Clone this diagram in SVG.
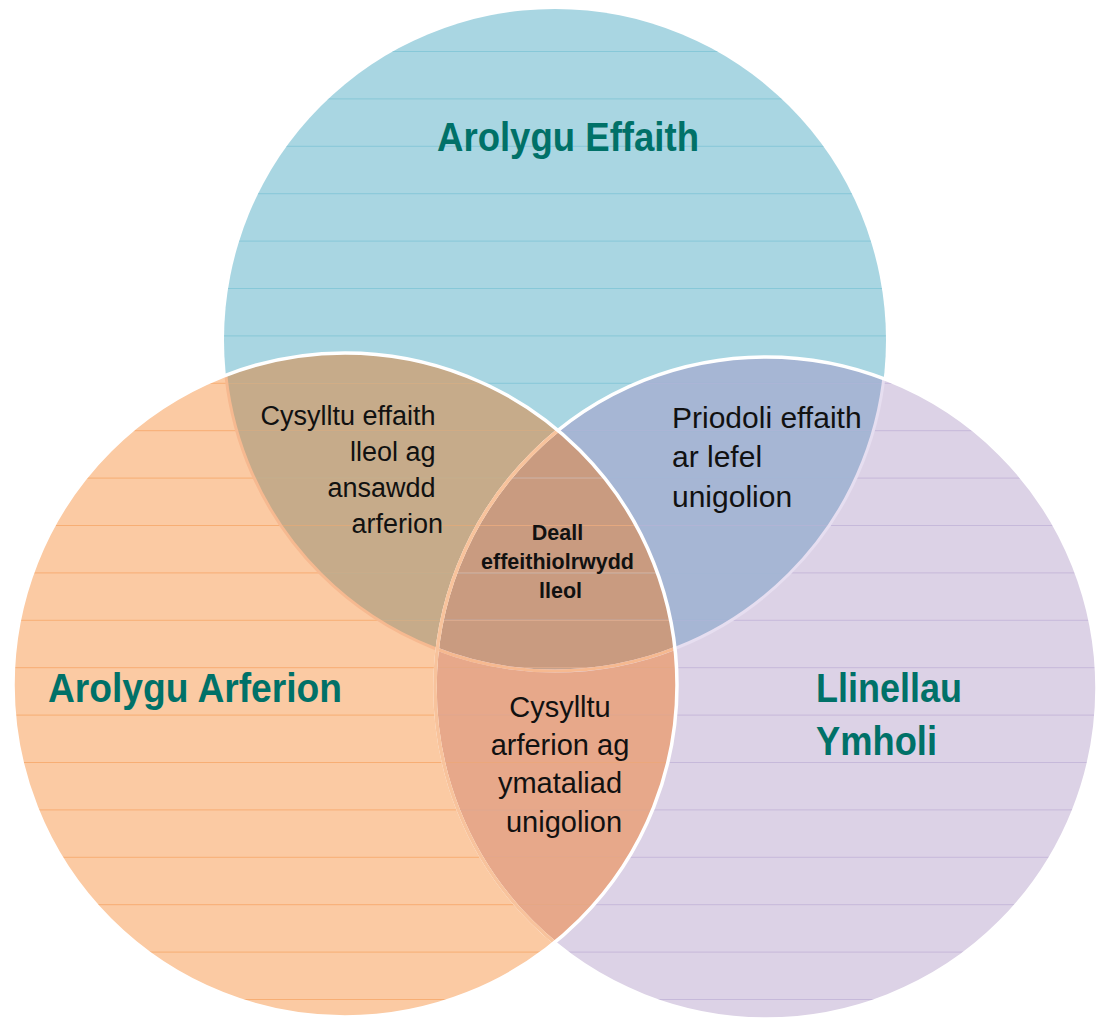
<svg xmlns="http://www.w3.org/2000/svg" width="1099" height="1020" viewBox="0 0 1099 1020">
  <style>
    .title { font-family: "Liberation Sans", Arial, sans-serif; font-weight: bold; font-size: 40px; fill: #007168; }
    .body { font-family: "Liberation Sans", Arial, sans-serif; fill: #111111; }
    .bold { font-family: "Liberation Sans", Arial, sans-serif; font-weight: bold; font-size: 21.5px; fill: #111111; }
    .rule { fill: none; stroke-width: 1; }
  </style>
  <defs>
    <clipPath id="cb"><circle cx="555" cy="340" r="331"/></clipPath>
    <clipPath id="co"><circle cx="345" cy="685" r="332"/></clipPath>
    <clipPath id="cp"><circle cx="766" cy="688" r="331"/></clipPath>
    <path id="rules" d="M0 51.5H1099M0 98.9H1099M0 146.3H1099M0 193.7H1099M0 241.1H1099M0 288.5H1099M0 335.9H1099M0 383.3H1099M0 430.7H1099M0 478.1H1099M0 525.5H1099M0 572.9H1099M0 620.3H1099M0 667.7H1099M0 715.1H1099M0 762.5H1099M0 809.9H1099M0 857.3H1099M0 904.7H1099M0 952.1H1099M0 999.5H1099"/>
  </defs>
  <rect width="1099" height="1020" fill="#ffffff"/>

  <g id="circle-effaith">
    <circle cx="555" cy="340" r="331" fill="#a9d6e2"/>
  </g>
  <g id="circle-ymholi">
    <circle cx="766" cy="688" r="331" fill="#dcd2e6"/>
    <circle cx="766" cy="688" r="331" fill="#a6b6d4" clip-path="url(#cb)"/>
  </g>
  <g id="circle-arferion">
    <circle cx="345" cy="685" r="332" fill="#fbcaa3"/>
    <circle cx="345" cy="685" r="332" fill="#c6ab8a" clip-path="url(#cb)"/>
    <circle cx="345" cy="685" r="332" fill="#e7a88a" clip-path="url(#cp)"/>
    <g clip-path="url(#cp)">
      <circle cx="345" cy="685" r="332" fill="#c99b80" clip-path="url(#cb)"/>
    </g>
  </g>

  <g id="rules-lines">
    <use href="#rules" class="rule" stroke="#7cc3d4" stroke-opacity="0.75" clip-path="url(#cb)"/>
    <use href="#rules" class="rule" stroke="#bfb0d6" stroke-opacity="0.75" clip-path="url(#cp)"/>
    <use href="#rules" class="rule" stroke="#f5a464" stroke-opacity="0.75" clip-path="url(#co)"/>
  </g>

  <g id="edges">
    <circle cx="555" cy="340" r="331" fill="none" stroke="#e6def0" stroke-width="3" clip-path="url(#cp)"/>
    <circle cx="555" cy="340" r="331" fill="none" stroke="#f6b990" stroke-width="3" clip-path="url(#co)"/>
    <circle cx="766" cy="688" r="331" fill="none" stroke="#ffffff" stroke-width="3.5"/>
    <circle cx="766" cy="688" r="331" fill="none" stroke="#f8c39c" stroke-width="3.5" clip-path="url(#co)"/>
    <circle cx="345" cy="685" r="332" fill="none" stroke="#ffffff" stroke-width="3.5"/>
  </g>

  <g id="label-effaith">
    <text class="title" x="437" y="151" textLength="262" lengthAdjust="spacingAndGlyphs">Arolygu Effaith</text>
  </g>
  <g id="label-arferion">
    <text class="title" x="48" y="702" textLength="294" lengthAdjust="spacingAndGlyphs">Arolygu Arferion</text>
  </g>
  <g id="label-ymholi">
    <text class="title" x="816" y="702" textLength="146" lengthAdjust="spacingAndGlyphs">Llinellau</text>
    <text class="title" x="816" y="755" textLength="121" lengthAdjust="spacingAndGlyphs">Ymholi</text>
  </g>

  <g id="overlap-effaith-arferion">
    <text class="body" font-size="27" text-anchor="end">
      <tspan x="443" y="425">Cysylltu effaith</tspan>
      <tspan x="443" y="461">lleol ag</tspan>
      <tspan x="443" y="497">ansawdd</tspan>
      <tspan x="443" y="533">arferion</tspan>
    </text>
  </g>
  <g id="overlap-effaith-ymholi">
    <text class="body" font-size="30">
      <tspan x="672" y="428">Priodoli effaith</tspan>
      <tspan x="672" y="467">ar lefel</tspan>
      <tspan x="672" y="507">unigolion</tspan>
    </text>
  </g>
  <g id="overlap-arferion-ymholi">
    <text class="body" font-size="29" text-anchor="middle">
      <tspan x="564" y="717">Cysylltu</tspan>
      <tspan x="564" y="755">arferion ag</tspan>
      <tspan x="564" y="793">ymataliad</tspan>
      <tspan x="564" y="832">unigolion</tspan>
    </text>
  </g>
  <g id="overlap-centre">
    <text class="bold" text-anchor="middle">
      <tspan x="560.5" y="540">Deall</tspan>
      <tspan x="560.5" y="569">effeithiolrwydd</tspan>
      <tspan x="560.5" y="598">lleol</tspan>
    </text>
  </g>
</svg>
